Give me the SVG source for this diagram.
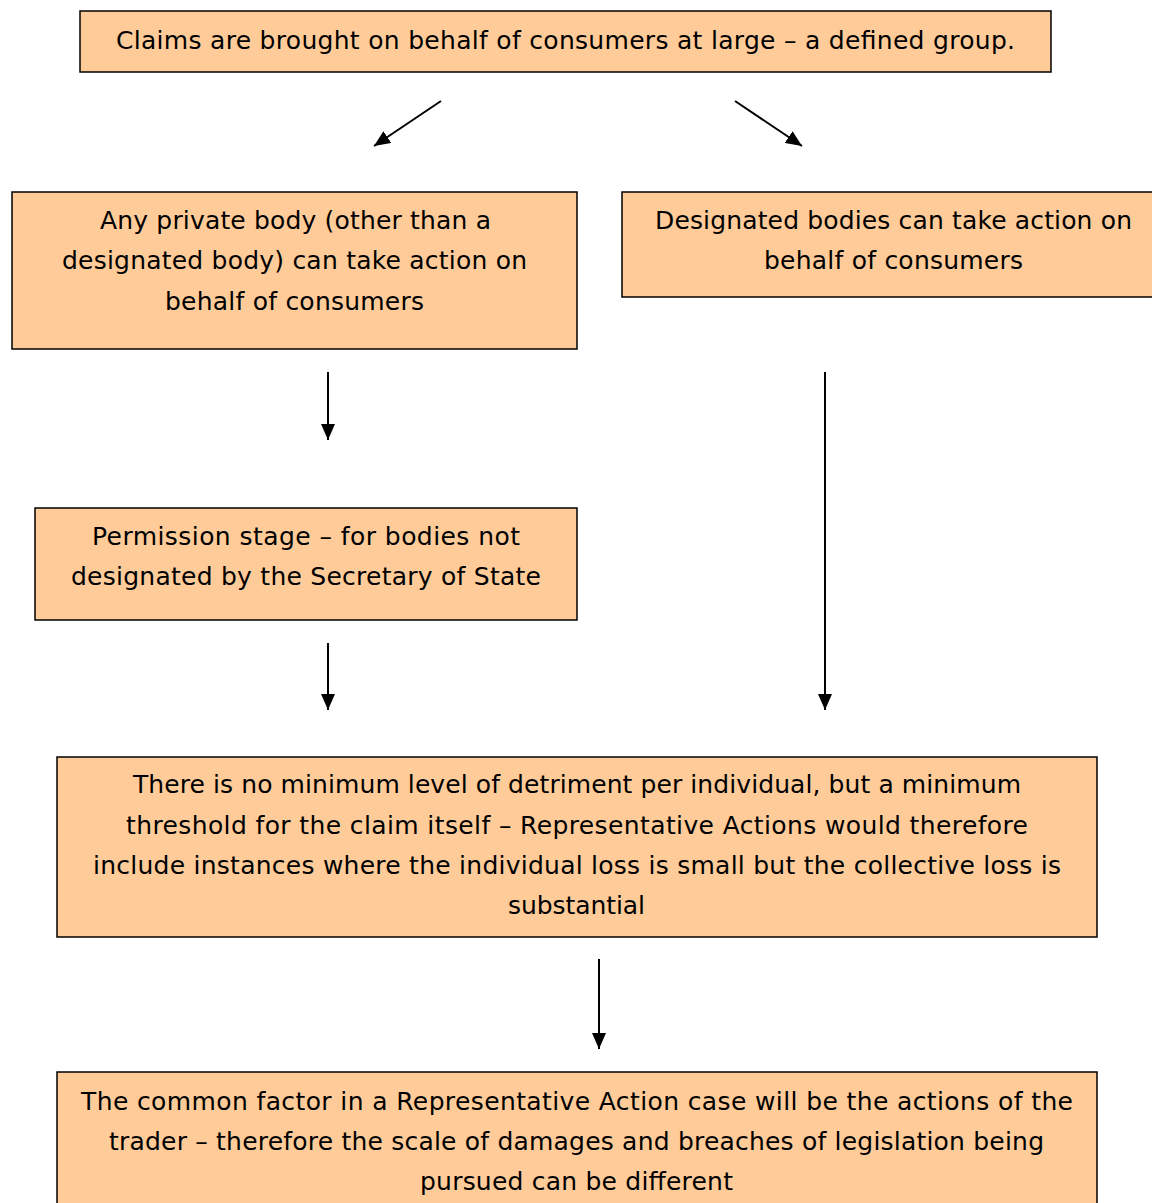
<svg xmlns="http://www.w3.org/2000/svg" width="1152" height="1203" viewBox="0 0 1152 1203">
<defs>
<marker id="ah" viewBox="0 0 16 14" refX="16" refY="7" markerWidth="16" markerHeight="14" markerUnits="userSpaceOnUse" orient="auto">
<path d="M0,0 L16,7 L0,14 z" fill="#000"/>
</marker>
<style>
.box{fill:#FFCC99;stroke:#000;stroke-width:1.5}
.t{font-family:"DejaVu Sans","Liberation Sans",sans-serif;font-size:25px;fill:#000;text-anchor:middle}
.c{stroke:#000;stroke-width:2;fill:none;marker-end:url(#ah)}
</style>
</defs>
<rect width="1152" height="1203" fill="#fff"/>
<g id="n1">
<rect class="box" x="80" y="11" width="971" height="61"/>
<text class="t" x="565.5" y="49" textLength="899">Claims are brought on behalf of consumers at large – a defined group.</text>
</g>
<g id="n2">
<rect class="box" x="12" y="192" width="565" height="157"/>
<text class="t" x="295.5" y="229" textLength="391">Any private body (other than a</text>
<text class="t" x="294.5" y="269" textLength="465">designated body) can take action on</text>
<text class="t" x="294.5" y="310" textLength="259">behalf of consumers</text>
</g>
<g id="n3">
<rect class="box" x="622" y="192" width="540" height="105"/>
<text class="t" x="893.5" y="229" textLength="477">Designated bodies can take action on</text>
<text class="t" x="893.5" y="269" textLength="259">behalf of consumers</text>
</g>
<g id="n4">
<rect class="box" x="35" y="508" width="542" height="112"/>
<text class="t" x="306" y="545" textLength="428">Permission stage – for bodies not</text>
<text class="t" x="306" y="585" textLength="470">designated by the Secretary of State</text>
</g>
<g id="n5">
<rect class="box" x="57" y="757" width="1040" height="180"/>
<text class="t" x="577" y="793" textLength="888">There is no minimum level of detriment per individual, but a minimum</text>
<text class="t" x="577" y="834" textLength="902">threshold for the claim itself – Representative Actions would therefore</text>
<text class="t" x="577" y="874" textLength="968">include instances where the individual loss is small but the collective loss is</text>
<text class="t" x="576.5" y="914" textLength="137">substantial</text>
</g>
<g id="n6">
<rect class="box" x="57" y="1072" width="1040" height="150"/>
<text class="t" x="577" y="1110" textLength="992">The common factor in a Representative Action case will be the actions of the</text>
<text class="t" x="576.5" y="1150" textLength="935">trader – therefore the scale of damages and breaches of legislation being</text>
<text class="t" x="576.5" y="1190" textLength="313">pursued can be different</text>
</g>
<g id="connectors">
<line class="c" x1="441" y1="101" x2="374" y2="146"/>
<line class="c" x1="735" y1="101" x2="802" y2="146"/>
<line class="c" x1="328" y1="372" x2="328" y2="440"/>
<line class="c" x1="825" y1="372" x2="825" y2="710"/>
<line class="c" x1="328" y1="643" x2="328" y2="710"/>
<line class="c" x1="599" y1="959" x2="599" y2="1049"/>
</g>
</svg>
